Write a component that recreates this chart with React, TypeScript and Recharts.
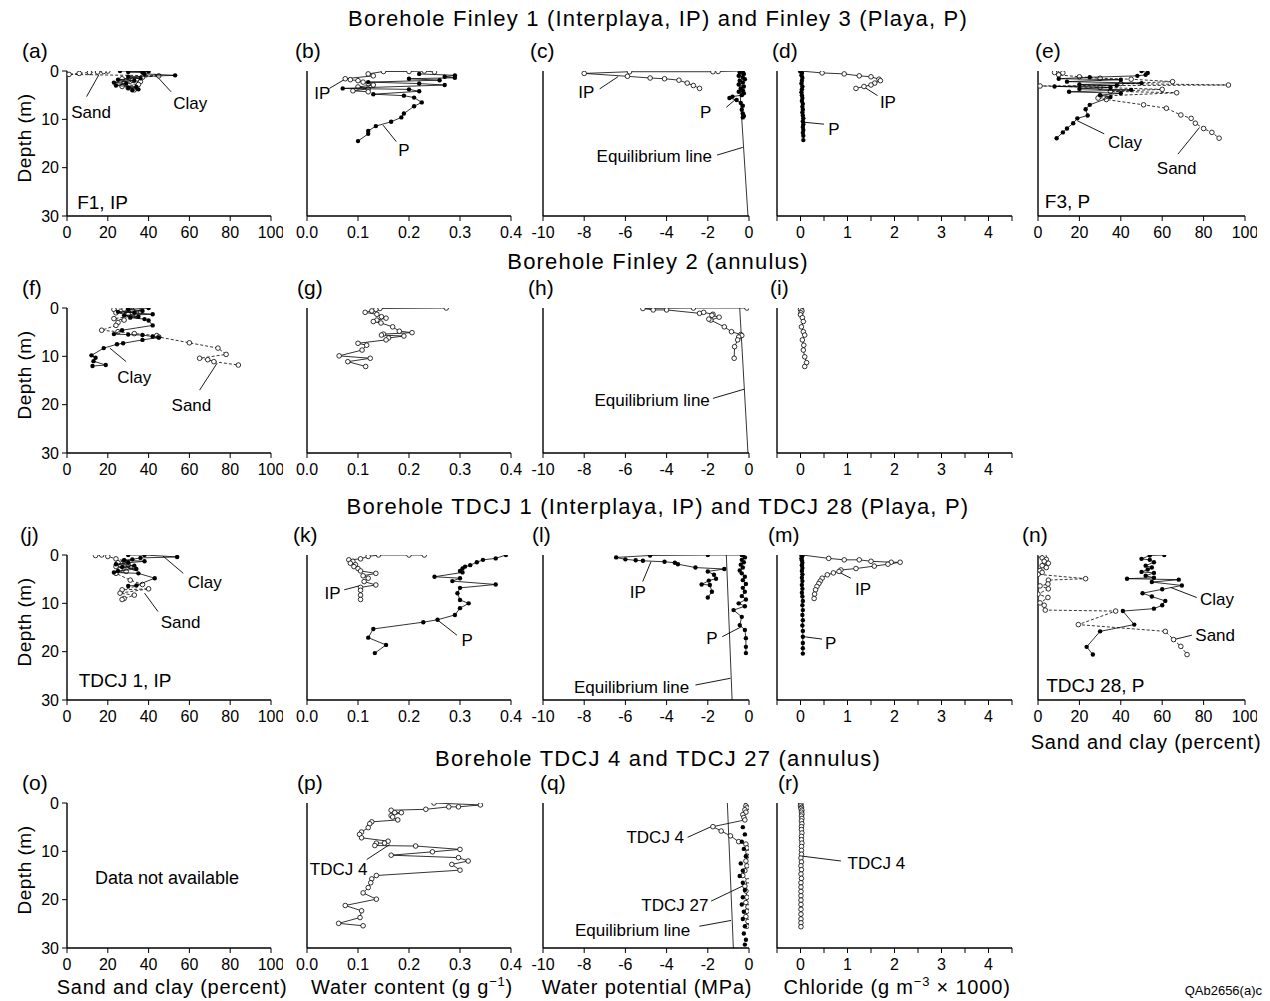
import React from 'react';
import { ScatterChart, Scatter, XAxis, YAxis, ReferenceLine, ReferenceDot } from 'recharts';

type Pair = [number, number];

// axis ticks
const PCT_TICKS = [0, 20, 40, 60, 80, 100];
const WC_TICKS = [0, 0.1, 0.2, 0.3, 0.4];
const WP_TICKS = [-10, -8, -6, -4, -2, 0];
const CL_TICKS = [-0.5, 0, 0.5, 1, 1.5, 2, 2.5, 3, 3.5, 4, 4.5];
const DEPTH_TICKS = [0, 10, 20, 30];

// ---- Finley 1 / Finley 3 ----  [x, depth]
const A_CLAY: Pair[] = [[26, 0.0], [40, 0.1], [30, 0.2], [37, 0.3], [38, 0.6], [53, 0.9], [30, 1.2], [36, 1.5], [25, 1.8], [33, 2.0], [23, 2.4], [29, 2.6], [24, 3.0], [34, 3.3], [30, 3.5], [35, 3.8], [32, 4.0]];
const A_SAND: Pair[] = [[20, 0.0], [18, 0.1], [15, 0.2], [11, 0.3], [6, 0.5], [1, 0.7], [45, 1.0], [37, 1.3], [27, 1.6], [32, 1.9], [36, 2.2], [28, 2.5], [35, 2.8], [27, 3.2], [30, 3.5], [33, 3.9]];
const B_IP: Pair[] = [[0.25, 0.2], [0.23, 0.0], [0.2, 0.1], [0.15, 0.1], [0.12, 0.6], [0.13, 1.0], [0.075, 1.6], [0.085, 1.8], [0.1, 2.0], [0.11, 2.3], [0.12, 2.6], [0.13, 2.9], [0.1, 3.3], [0.12, 3.7], [0.09, 4.1], [0.12, 4.3]];
const B_P: Pair[] = [[0.22, 0.6], [0.29, 0.9], [0.27, 1.2], [0.29, 1.4], [0.2, 1.6], [0.26, 1.9], [0.12, 2.3], [0.22, 2.6], [0.27, 2.9], [0.07, 3.6], [0.2, 3.8], [0.22, 4.2], [0.13, 4.8], [0.19, 5.1], [0.21, 5.5], [0.225, 6.5], [0.21, 7.3], [0.19, 8.8], [0.185, 9.6], [0.165, 10.5], [0.135, 11.4], [0.12, 12.4], [0.12, 13.0], [0.1, 14.5]];
const C_IP: Pair[] = [[-0.4, 0.0], [-1.5, 0.1], [-1.75, 0.15], [-5.8, 0.15], [-8.0, 0.5], [-5.9, 1.1], [-4.8, 1.45], [-4.1, 1.6], [-3.4, 1.9], [-3.0, 2.5], [-2.7, 3.0], [-2.4, 3.6]];
const C_P: Pair[] = [[-0.3, 0.0], [-0.45, 0.3], [-0.25, 0.6], [-0.5, 1.0], [-0.3, 1.3], [-0.2, 1.7], [-0.45, 2.0], [-0.3, 2.4], [-0.5, 2.8], [-0.25, 3.2], [-0.4, 3.6], [-0.3, 4.0], [-0.5, 4.3], [-0.25, 4.6], [-0.35, 5.0], [-0.8, 5.3], [-0.95, 5.6], [-0.6, 6.0], [-0.4, 6.6], [-0.3, 7.2], [-0.35, 8.0], [-0.3, 8.8], [-0.25, 9.3], [-0.3, 9.6]];
const C_EQ: Pair[] = [[-0.5, 0], [-0.05, 30]];
const D_IP: Pair[] = [[0.0, 0.0], [0.46, 0.4], [0.93, 0.6], [1.25, 1.0], [1.5, 1.2], [1.67, 1.7], [1.7, 2.0], [1.58, 2.5], [1.5, 2.9], [1.35, 3.2], [1.18, 3.6]];
const D_P: Pair[] = [[0.0, 0.0], [0.03, 0.4], [0.02, 0.9], [0.04, 1.4], [0.03, 2.0], [0.02, 2.6], [0.04, 3.2], [0.03, 3.8], [0.02, 4.4], [0.03, 5.0], [0.04, 5.6], [0.03, 6.2], [0.05, 6.8], [0.04, 7.4], [0.05, 8.0], [0.04, 8.6], [0.05, 9.2], [0.06, 9.8], [0.05, 10.4], [0.06, 11.0], [0.05, 11.6], [0.06, 12.2], [0.05, 12.8], [0.06, 13.4], [0.06, 14.3]];
const E_CLAY: Pair[] = [[50, 0.0], [53, 0.4], [52, 0.8], [48, 1.0], [25, 1.3], [10, 1.6], [40, 1.8], [14, 2.2], [50, 2.5], [20, 2.8], [38, 3.0], [8, 3.2], [35, 3.4], [20, 3.7], [45, 3.9], [15, 4.3], [40, 4.6], [30, 5.0], [35, 5.4], [25, 7.0], [23, 7.9], [24, 9.2], [19, 9.8], [17, 10.8], [14, 11.9], [12, 12.7], [9, 13.9]];
const E_SAND: Pair[] = [[8, 0.3], [11, 0.0], [12, 0.4], [10, 0.8], [20, 1.2], [30, 1.5], [45, 1.7], [65, 2.2], [40, 2.6], [92, 2.9], [1, 3.1], [30, 3.4], [60, 3.8], [35, 4.2], [67, 4.5], [30, 5.2], [29, 5.6], [33, 5.9], [51, 7.0], [62, 7.7], [69, 9.1], [74, 9.8], [76, 10.8], [80, 11.9], [84, 12.7], [87.5, 13.9]];

// ---- Finley 2 ----
const F_CLAY: Pair[] = [[40, 0.0], [30, 0.3], [37, 0.6], [25, 0.8], [33, 1.0], [42, 1.3], [28, 1.5], [35, 1.8], [31, 2.0], [38, 2.3], [40, 2.6], [42, 3.6], [27, 4.6], [23, 5.4], [30, 5.5], [37, 5.6], [42, 5.9], [45, 6.1], [37, 6.6], [27.5, 7.3], [24.5, 7.5], [18, 8.3], [12, 9.8], [14, 10.3], [13, 11.0], [19, 11.8], [12.5, 12.0]];
const F_SAND: Pair[] = [[23, 0.3], [28, 0.2], [32, 0.5], [36, 0.8], [24, 1.0], [30, 1.3], [34, 1.6], [23, 2.2], [28, 2.5], [25, 3.0], [24, 3.6], [17, 4.6], [25, 4.9], [33, 5.3], [44, 5.7], [45, 6.0], [60, 7.2], [74, 8.3], [78, 9.6], [65, 10.4], [69, 10.7], [72, 11.1], [84, 11.8]];
const G_WC: Pair[] = [[0.273, 0.0], [0.143, 0.1], [0.135, 0.3], [0.127, 0.6], [0.114, 0.9], [0.137, 1.3], [0.146, 1.8], [0.155, 2.1], [0.137, 2.5], [0.13, 2.8], [0.145, 3.1], [0.168, 3.9], [0.181, 4.8], [0.206, 5.1], [0.15, 5.4], [0.146, 5.6], [0.19, 5.8], [0.16, 6.2], [0.155, 6.6], [0.1, 7.3], [0.117, 7.7], [0.108, 8.7], [0.063, 9.9], [0.124, 10.4], [0.08, 11.1], [0.115, 12.1]];
const H_WP: Pair[] = [[-0.1, 0.0], [-2.7, 0.0], [-5.15, 0.1], [-4.65, 0.4], [-4.0, 0.4], [-2.4, 1.1], [-2.2, 0.9], [-1.75, 1.3], [-1.8, 1.5], [-1.45, 1.9], [-1.85, 2.5], [-1.95, 2.3], [-1.2, 3.9], [-0.85, 4.9], [-0.4, 5.5], [-0.35, 5.7], [-0.5, 6.0], [-0.55, 6.6], [-0.7, 8.0], [-0.72, 10.4]];
const H_EQ: Pair[] = [[-0.45, 0], [-0.05, 30]];
const I_CL: Pair[] = [[0.02, 0.0], [0.0, 0.3], [0.03, 0.6], [0.01, 1.0], [0.0, 1.4], [0.04, 2.0], [0.06, 2.8], [0.02, 3.9], [0.06, 4.9], [0.09, 5.6], [0.04, 6.6], [0.07, 7.7], [0.06, 8.7], [0.09, 10.1], [0.13, 11.3], [0.09, 12.1]];

// ---- TDCJ 1 / TDCJ 28 ----
const J_CLAY: Pair[] = [[30, 0.0], [38, 0.0], [54, 0.4], [36, 0.6], [32, 0.9], [28, 1.1], [38, 1.3], [30, 1.6], [24, 1.9], [33, 2.2], [27, 2.5], [34, 2.9], [25, 3.3], [23, 3.6], [35, 3.8], [43, 4.8], [34, 6.3], [30, 6.4]];
const J_SAND: Pair[] = [[14, 0.1], [17, 0.0], [20, 0.3], [24, 0.8], [28, 1.2], [25, 1.6], [30, 2.0], [24, 2.4], [33, 2.7], [26, 3.0], [29, 3.4], [24, 3.8], [31, 5.2], [37, 6.1], [27, 7.2], [40, 7.0], [26, 7.9], [33, 8.3], [28, 9.0], [27, 9.2]];
const K_IP: Pair[] = [[0.23, 0.0], [0.2, 0.0], [0.14, 0.0], [0.12, 0.3], [0.105, 0.8], [0.082, 1.0], [0.09, 1.3], [0.085, 1.7], [0.095, 2.0], [0.092, 2.4], [0.1, 2.8], [0.105, 3.3], [0.135, 3.8], [0.11, 4.3], [0.12, 4.8], [0.112, 5.5], [0.135, 6.2], [0.105, 6.7], [0.105, 7.3], [0.105, 8.3], [0.105, 9.2]];
const K_P: Pair[] = [[0.39, 0.0], [0.37, 0.7], [0.345, 1.0], [0.333, 1.5], [0.32, 2.1], [0.31, 2.4], [0.305, 2.8], [0.3, 3.3], [0.305, 3.6], [0.25, 4.5], [0.3, 4.8], [0.285, 5.4], [0.37, 6.1], [0.3, 6.8], [0.295, 7.9], [0.3, 9.3], [0.317, 10.0], [0.3, 11.0], [0.29, 12.4], [0.256, 13.4], [0.228, 13.9], [0.13, 15.3], [0.12, 17.1], [0.155, 18.6], [0.133, 20.3]];
const L_IP: Pair[] = [[-0.35, 0.0], [-2.0, 0.0], [-4.8, 0.1], [-6.45, 0.5], [-6.0, 0.9], [-5.5, 1.1], [-5.15, 1.2], [-4.1, 1.4], [-3.6, 1.6], [-3.45, 1.9], [-2.6, 2.6], [-1.2, 2.9], [-2.0, 3.4], [-1.7, 4.1], [-1.6, 4.9], [-1.95, 5.3], [-2.3, 6.1], [-1.9, 6.2], [-1.8, 7.6], [-2.0, 8.8]];
const L_P: Pair[] = [[-0.3, 0.0], [-0.2, 0.5], [-0.35, 1.0], [-0.25, 1.5], [-0.4, 2.0], [-0.3, 2.6], [-0.45, 3.2], [-0.35, 3.8], [-0.2, 4.5], [-0.3, 5.2], [-0.15, 6.0], [-0.3, 6.8], [-0.2, 7.6], [-0.35, 8.5], [-0.15, 9.2], [-0.5, 10.0], [-0.2, 10.6], [-0.75, 11.4], [-0.35, 12.8], [-0.45, 14.5], [-0.2, 15.5], [-0.15, 17.2], [-0.15, 19.0], [-0.15, 20.3]];
const L_EQ: Pair[] = [[-1.1, 0], [-0.82, 30]];
const M_IP: Pair[] = [[0.04, 0.0], [0.6, 0.7], [0.93, 1.0], [1.25, 1.0], [1.5, 1.3], [1.93, 1.5], [2.12, 1.5], [1.86, 1.9], [1.57, 2.3], [1.18, 2.8], [0.86, 3.1], [0.82, 3.4], [0.7, 3.7], [0.57, 4.1], [0.46, 4.8], [0.42, 5.4], [0.39, 5.9], [0.35, 6.5], [0.32, 7.2], [0.3, 8.1], [0.29, 9.0]];
const M_P: Pair[] = [[0.02, 0.0], [0.03, 0.3], [0.02, 0.7], [0.03, 1.1], [0.04, 1.6], [0.03, 2.1], [0.04, 2.7], [0.03, 3.3], [0.04, 4.0], [0.03, 4.7], [0.04, 5.4], [0.03, 6.2], [0.04, 7.0], [0.03, 7.8], [0.04, 8.6], [0.05, 9.5], [0.04, 10.4], [0.05, 11.4], [0.04, 12.4], [0.05, 13.5], [0.04, 14.6], [0.05, 15.7], [0.05, 16.9], [0.05, 18.2], [0.05, 19.3], [0.05, 20.4]];
const N_CLAY: Pair[] = [[61, 0.0], [54, 0.1], [50, 0.8], [54, 1.0], [56, 1.5], [52, 2.2], [55, 2.6], [53, 3.0], [50, 3.5], [56, 3.7], [52, 4.3], [56, 4.7], [43, 4.9], [68, 5.1], [55, 5.6], [69.5, 6.3], [60, 7.1], [50.5, 7.9], [55, 8.6], [61.5, 9.5], [60, 10.4], [56, 11.1], [41, 11.6], [46.5, 14.4], [30, 15.8], [23.5, 19.0], [26.5, 20.6]];
const N_SAND: Pair[] = [[1, 0.0], [3, 0.3], [2, 0.6], [4, 0.9], [3, 1.3], [5, 1.7], [2, 2.2], [4, 2.6], [1, 3.2], [2, 3.6], [0, 4.0], [23, 4.9], [5, 5.2], [4.8, 6.0], [1, 6.4], [5, 7.0], [0, 8.1], [4.8, 8.8], [1, 9.9], [3, 10.4], [3.5, 11.4], [37.5, 11.6], [19.5, 14.4], [61.5, 15.8], [65.5, 17.5], [69, 18.9], [72, 20.6]];

// ---- TDCJ 4 / TDCJ 27 ----
const P_T4: Pair[] = [[0.249, 0.0], [0.34, 0.4], [0.297, 0.8], [0.278, 0.8], [0.233, 1.3], [0.165, 1.5], [0.172, 2.0], [0.185, 2.0], [0.165, 2.6], [0.168, 2.9], [0.178, 3.5], [0.127, 3.9], [0.123, 4.3], [0.12, 5.1], [0.107, 6.0], [0.103, 6.5], [0.107, 7.2], [0.159, 7.9], [0.152, 8.3], [0.136, 8.3], [0.133, 8.8], [0.213, 8.9], [0.3, 9.6], [0.246, 10.1], [0.165, 10.8], [0.297, 11.3], [0.316, 12.0], [0.284, 12.7], [0.3, 13.9], [0.136, 15.0], [0.127, 15.7], [0.125, 16.5], [0.12, 17.5], [0.11, 18.6], [0.136, 19.9], [0.075, 21.2], [0.107, 22.3], [0.104, 23.7], [0.062, 24.9], [0.11, 25.4]];
const Q_T4: Pair[] = [[-0.1, 0.0], [-0.05, 0.3], [-0.15, 0.6], [-0.1, 1.0], [-0.2, 1.4], [-0.15, 1.9], [-0.3, 2.4], [-0.25, 3.0], [-0.2, 3.5], [-1.75, 4.9], [-1.35, 5.8], [-0.9, 6.8], [-0.5, 8.0], [-0.15, 8.5], [-0.1, 9.3], [-0.05, 10.2], [-0.1, 11.0], [-0.15, 12.0], [-0.1, 13.0], [-0.2, 14.0], [-0.3, 15.0], [-0.05, 16.1], [-0.2, 17.2], [-0.15, 18.2], [-0.1, 19.5], [-0.15, 20.6], [-0.05, 21.5], [-0.1, 22.4], [-0.15, 23.5], [-0.05, 24.5], [-0.1, 25.5]];
const Q_T27: Pair[] = [[-0.3, 5.0], [-0.2, 6.5], [-0.35, 8.0], [-0.25, 9.5], [-0.15, 11.0], [-0.4, 12.5], [-0.3, 14.0], [-0.45, 15.1], [-0.3, 16.5], [-0.2, 18.0], [-0.3, 19.5], [-0.35, 21.0], [-0.25, 22.5], [-0.3, 24.0], [-0.2, 25.5], [-0.25, 27.0], [-0.15, 28.3], [-0.2, 29.3]];
const Q_EQ: Pair[] = [[-1.05, 0], [-0.76, 30]];
const R_T4: Pair[] = [[0.0, 0.0], [0.01, 0.3], [0.0, 0.6], [0.02, 0.9], [0.01, 1.2], [0.03, 1.5], [0.02, 1.9], [0.03, 2.3], [0.02, 2.7], [0.03, 3.2], [0.02, 3.7], [0.03, 4.3], [0.02, 4.9], [0.02, 5.5], [0.03, 6.2], [0.02, 6.9], [0.02, 7.6], [0.03, 8.3], [0.02, 9.0], [0.02, 9.8], [0.02, 10.6], [0.01, 11.4], [0.02, 12.2], [0.01, 13.0], [0.02, 13.8], [0.01, 14.7], [0.02, 15.6], [0.01, 16.5], [0.01, 17.4], [0.01, 18.3], [0.01, 19.2], [0.01, 20.1], [0.01, 21.0], [0.01, 22.0], [0.01, 23.0], [0.01, 24.0], [0.01, 24.8], [0.01, 25.6]];

const ROW_TITLES = [
  'Borehole Finley 1 (Interplaya, IP) and Finley 3 (Playa, P)',
  'Borehole Finley 2 (annulus)',
  'Borehole TDCJ 1 (Interplaya, IP) and TDCJ 28 (Playa, P)',
  'Borehole TDCJ 4 and TDCJ 27 (annulus)',
];

const FONT = '"Liberation Sans", Arial, Helvetica, sans-serif';
const YW = 50;
const MT = 8;
const MR = 12;
const XH = 34;

const fmtInt = (v: number) => String(v);
const COLS = [
  { left: 67, width: 204, domain: [0, 100], ticks: PCT_TICKS, fmt: fmtInt },
  { left: 307, width: 204, domain: [0, 0.4], ticks: WC_TICKS, fmt: (v: number) => v.toFixed(1) },
  { left: 543, width: 206, domain: [-10, 0], ticks: WP_TICKS, fmt: fmtInt },
  { left: 777, width: 235, domain: [-0.5, 4.5], ticks: CL_TICKS, fmt: (v: number) => (Number.isInteger(v) ? String(v) : '') },
  { left: 1038, width: 207, domain: [0, 100], ticks: PCT_TICKS, fmt: fmtInt },
];
const ROWS = [
  { top: 71, height: 145, titleY: 19 },
  { top: 308, height: 145, titleY: 262 },
  { top: 555, height: 145, titleY: 507 },
  { top: 803, height: 145, titleY: 759 },
];

type Series = { data: Pair[]; mark: 'filled' | 'open' | 'none'; line: 'solid' | 'dash' | 'none' };
type Note = { x: number; d: number; text: string; start?: boolean; size?: number };
type Panel = { tag: string; row: number; col: number; tagX: number; series: Series[]; notes: Note[]; leaders: number[][] };

const S = (data: Pair[], mark: Series['mark'], line: Series['line']): Series => ({ data, mark, line });

const PANELS: Panel[] = [
  {
    tag: '(a)', row: 0, col: 0, tagX: 22,
    series: [S(A_SAND, 'open', 'dash'), S(A_CLAY, 'filled', 'solid')],
    notes: [{ x: 11.8, d: 8.4, text: 'Sand' }, { x: 60.4, d: 6.7, text: 'Clay' }, { x: 5, d: 27.1, text: 'F1, IP', start: true, size: 19 }],
    leaders: [[9.6, 5.3, 15.6, 0.8], [51, 4.3, 43, 0.6]],
  },
  {
    tag: '(b)', row: 0, col: 1, tagX: 295,
    series: [S(B_IP, 'open', 'solid'), S(B_P, 'filled', 'solid')],
    notes: [{ x: 0.03, d: 4.6, text: 'IP' }, { x: 0.19, d: 16.3, text: 'P' }],
    leaders: [[0.044, 3.6, 0.076, 1.6], [0.175, 14.6, 0.149, 11.2]],
  },
  {
    tag: '(c)', row: 0, col: 2, tagX: 530,
    series: [S(C_EQ, 'none', 'solid'), S(C_IP, 'open', 'solid'), S(C_P, 'filled', 'solid')],
    notes: [{ x: -7.9, d: 4.4, text: 'IP' }, { x: -2.1, d: 8.5, text: 'P' }, { x: -4.6, d: 17.5, text: 'Equilibrium line' }],
    leaders: [[-7.25, 3.7, -6.35, 1.15], [-1.1, 7.5, -0.63, 5.8], [-1.55, 17.4, -0.3, 15.8]],
  },
  {
    tag: '(d)', row: 0, col: 3, tagX: 772,
    series: [S(D_IP, 'open', 'solid'), S(D_P, 'filled', 'solid')],
    notes: [{ x: 1.86, d: 6.5, text: 'IP' }, { x: 0.71, d: 12.0, text: 'P' }],
    leaders: [[1.64, 5.1, 1.35, 3.3], [0.5, 11.0, 0.07, 10.6]],
  },
  {
    tag: '(e)', row: 0, col: 4, tagX: 1035,
    series: [S(E_SAND, 'open', 'dash'), S(E_CLAY, 'filled', 'solid')],
    notes: [{ x: 42, d: 14.6, text: 'Clay' }, { x: 67, d: 20.0, text: 'Sand' }, { x: 3.3, d: 27.0, text: 'F3, P', start: true, size: 19 }],
    leaders: [[32, 13, 19, 10.3], [67.6, 17.2, 78, 11.7]],
  },
  {
    tag: '(f)', row: 1, col: 0, tagX: 22,
    series: [S(F_SAND, 'open', 'dash'), S(F_CLAY, 'filled', 'solid')],
    notes: [{ x: 33, d: 14.2, text: 'Clay' }, { x: 61, d: 20.0, text: 'Sand' }],
    leaders: [[29, 11.1, 21, 8.3], [65, 17, 73.6, 11.4]],
  },
  {
    tag: '(g)', row: 1, col: 1, tagX: 297,
    series: [S(G_WC, 'open', 'solid')],
    notes: [],
    leaders: [],
  },
  {
    tag: '(h)', row: 1, col: 2, tagX: 528,
    series: [S(H_EQ, 'none', 'solid'), S(H_WP, 'open', 'solid')],
    notes: [{ x: -4.7, d: 19.0, text: 'Equilibrium line' }],
    leaders: [[-1.75, 18.7, -0.23, 16.8]],
  },
  {
    tag: '(i)', row: 1, col: 3, tagX: 770,
    series: [S(I_CL, 'open', 'solid')],
    notes: [],
    leaders: [],
  },
  {
    tag: '(j)', row: 2, col: 0, tagX: 20,
    series: [S(J_SAND, 'open', 'dash'), S(J_CLAY, 'filled', 'solid')],
    notes: [{ x: 67.5, d: 5.5, text: 'Clay' }, { x: 55.7, d: 13.8, text: 'Sand' }, { x: 5.7, d: 26, text: 'TDCJ 1, IP', start: true, size: 19 }],
    leaders: [[57, 3.8, 47, 0.2], [44.6, 11.7, 38, 7.9]],
  },
  {
    tag: '(k)', row: 2, col: 1, tagX: 293,
    series: [S(K_IP, 'open', 'solid'), S(K_P, 'filled', 'solid')],
    notes: [{ x: 0.05, d: 7.9, text: 'IP' }, { x: 0.314, d: 17.6, text: 'P' }],
    leaders: [[0.073, 7.2, 0.102, 6.4], [0.294, 16.6, 0.253, 13.2]],
  },
  {
    tag: '(l)', row: 2, col: 2, tagX: 532,
    series: [S(L_EQ, 'none', 'solid'), S(L_IP, 'filled', 'solid'), S(L_P, 'filled', 'solid')],
    notes: [{ x: -5.4, d: 7.6, text: 'IP' }, { x: -1.8, d: 17.2, text: 'P' }, { x: -5.7, d: 27.2, text: 'Equilibrium line' }],
    leaders: [[-5.16, 5.5, -4.76, 1.4], [-1.3, 16.9, -0.35, 14.8], [-2.6, 26.9, -0.9, 25.5]],
  },
  {
    tag: '(m)', row: 2, col: 3, tagX: 768,
    series: [S(M_IP, 'open', 'solid'), S(M_P, 'filled', 'solid')],
    notes: [{ x: 1.33, d: 7.0, text: 'IP' }, { x: 0.64, d: 18.3, text: 'P' }],
    leaders: [[1.07, 4.8, 0.79, 3.4], [0.46, 17.4, 0.07, 16.9]],
  },
  {
    tag: '(n)', row: 2, col: 4, tagX: 1022,
    series: [S(N_SAND, 'open', 'dash'), S(N_CLAY, 'filled', 'solid')],
    notes: [{ x: 86.5, d: 9.0, text: 'Clay' }, { x: 85.6, d: 16.5, text: 'Sand' }, { x: 4, d: 26.9, text: 'TDCJ 28, P', start: true, size: 19 }],
    leaders: [[76.7, 8.8, 64, 6.7], [74.3, 16.6, 65.6, 17.5]],
  },
  {
    tag: '(o)', row: 3, col: 0, tagX: 22,
    series: [],
    notes: [{ x: 49, d: 15.4, text: 'Data not available', size: 18 }],
    leaders: [],
  },
  {
    tag: '(p)', row: 3, col: 1, tagX: 297,
    series: [S(P_T4, 'open', 'solid')],
    notes: [{ x: 0.062, d: 13.7, text: 'TDCJ 4' }],
    leaders: [[0.117, 11.7, 0.162, 8.6]],
  },
  {
    tag: '(q)', row: 3, col: 2, tagX: 540,
    series: [S(Q_EQ, 'none', 'solid'), S(Q_T4, 'open', 'solid'), S(Q_T27, 'filled', 'none')],
    notes: [{ x: -4.55, d: 7.1, text: 'TDCJ 4' }, { x: -3.6, d: 21, text: 'TDCJ 27' }, { x: -5.65, d: 26.2, text: 'Equilibrium line' }],
    leaders: [[-2.98, 7.1, -1.84, 4.9], [-1.84, 20.3, -0.22, 17], [-2.41, 25.5, -0.87, 24.3]],
  },
  {
    tag: '(r)', row: 3, col: 3, tagX: 778,
    series: [S(R_T4, 'open', 'solid')],
    notes: [{ x: 1.0, d: 12.4, text: 'TDCJ 4', start: true }],
    leaders: [[0.86, 12.0, 0.04, 11.0]],
  },
];

const openDot = (props: any) => <circle cx={props.cx} cy={props.cy} r={2.3} fill="#fff" stroke="#000" strokeWidth={0.8} />;
const filledDot = (props: any) => <circle cx={props.cx} cy={props.cy} r={2.2} fill="#000" />;
const noDot = () => <g />;

function PanelChart({ p }: { p: Panel }) {
  const col = COLS[p.col];
  const row = ROWS[p.row];
  const width = col.width + YW + MR;
  const height = row.height + MT + XH;
  const axisLine = { stroke: '#000', strokeWidth: 1.4 };
  return (
    <div style={{ position: 'absolute', left: col.left - YW, top: row.top - MT }}>
      <ScatterChart width={width} height={height} margin={{ top: MT, right: MR, bottom: 0, left: 0 }}>
        <XAxis
          type="number"
          dataKey="x"
          domain={col.domain}
          ticks={col.ticks}
          tickFormatter={col.fmt}
          interval={0}
          allowDataOverflow
          height={XH}
          tickSize={5}
          tickMargin={6}
          axisLine={axisLine}
          tickLine={{ stroke: '#000' }}
          tick={{ fill: '#000', fontSize: 16 }}
        />
        <YAxis
          type="number"
          dataKey="d"
          domain={[0, 30]}
          reversed
          ticks={DEPTH_TICKS}
          interval={0}
          allowDataOverflow
          width={YW}
          tickSize={5}
          tickMargin={3}
          axisLine={axisLine}
          tickLine={{ stroke: '#000' }}
          tick={p.col === 0 ? { fill: '#000', fontSize: 16 } : false}
        />
        {p.series.map((s, i) => (
          <Scatter
            key={i}
            data={s.data.map(([x, d]) => ({ x, d }))}
            isAnimationActive={false}
            shape={s.mark === 'open' ? openDot : s.mark === 'filled' ? filledDot : noDot}
            line={
              s.line === 'none'
                ? false
                : { stroke: '#000', strokeWidth: 0.8, strokeDasharray: s.line === 'dash' ? '3 2' : undefined }
            }
            lineType="joint"
          />
        ))}
        {p.leaders.map(([x1, d1, x2, d2], i) => (
          <ReferenceLine
            key={'l' + i}
            segment={[{ x: x1, y: d1 }, { x: x2, y: d2 }]}
            stroke="#000"
            strokeWidth={0.9}
            ifOverflow="visible"
          />
        ))}
        {p.notes.map((n, i) => (
          <ReferenceDot
            key={'n' + i}
            x={n.x}
            y={n.d}
            r={0}
            ifOverflow="visible"
            label={{
              value: n.text,
              position: n.start ? 'right' : 'center',
              offset: 0,
              fill: '#000',
              fontSize: n.size ?? 17,
            }}
          />
        ))}
      </ScatterChart>
    </div>
  );
}

const abs = (left: number, top: number, extra: React.CSSProperties = {}): React.CSSProperties => ({
  position: 'absolute',
  left,
  top,
  whiteSpace: 'nowrap',
  lineHeight: 1,
  ...extra,
});

const AXIS_TITLE: React.CSSProperties = { fontSize: 20, letterSpacing: 0.8, transform: 'translate(-50%, -50%)' };
const SUP: React.CSSProperties = { fontSize: 13, position: 'relative', top: -8 };

export default function App() {
  return (
    <div style={{ position: 'absolute', left: 0, top: 0, width: 1270, height: 1001, background: '#fff', fontFamily: FONT, color: '#000' }}>
      {ROW_TITLES.map((t, i) => (
        <div key={t} style={abs(658, ROWS[i].titleY, { fontSize: 22, letterSpacing: 1.2, transform: 'translate(-50%, -50%)' })}>
          {t}
        </div>
      ))}
      {ROWS.map((r, i) => (
        <div key={'depth' + i} style={abs(24, r.top + r.height / 2 - 6, { fontSize: 19, letterSpacing: 0.5, transform: 'translate(-50%, -50%) rotate(-90deg)' })}>
          Depth (m)
        </div>
      ))}
      {PANELS.map((p) => (
        <div key={p.tag} style={abs(p.tagX, ROWS[p.row].top - 21, { fontSize: 21, transform: 'translateY(-50%)' })}>
          {p.tag}
        </div>
      ))}
      {PANELS.map((p) => (
        <PanelChart key={'c' + p.tag} p={p} />
      ))}
      <div style={abs(172, 987, AXIS_TITLE)}>Sand and clay (percent)</div>
      <div style={abs(412, 987, AXIS_TITLE)}>
        Water content (g g<span style={SUP}>−1</span>)
      </div>
      <div style={abs(647, 987, AXIS_TITLE)}>Water potential (MPa)</div>
      <div style={abs(897, 987, AXIS_TITLE)}>
        Chloride (g m<span style={SUP}>−3</span> × 1000)
      </div>
      <div style={abs(1146, 742, AXIS_TITLE)}>Sand and clay (percent)</div>
      <div style={abs(1262, 990, { fontSize: 13, transform: 'translate(-100%, -50%)' })}>QAb2656(a)c</div>
    </div>
  );
}
